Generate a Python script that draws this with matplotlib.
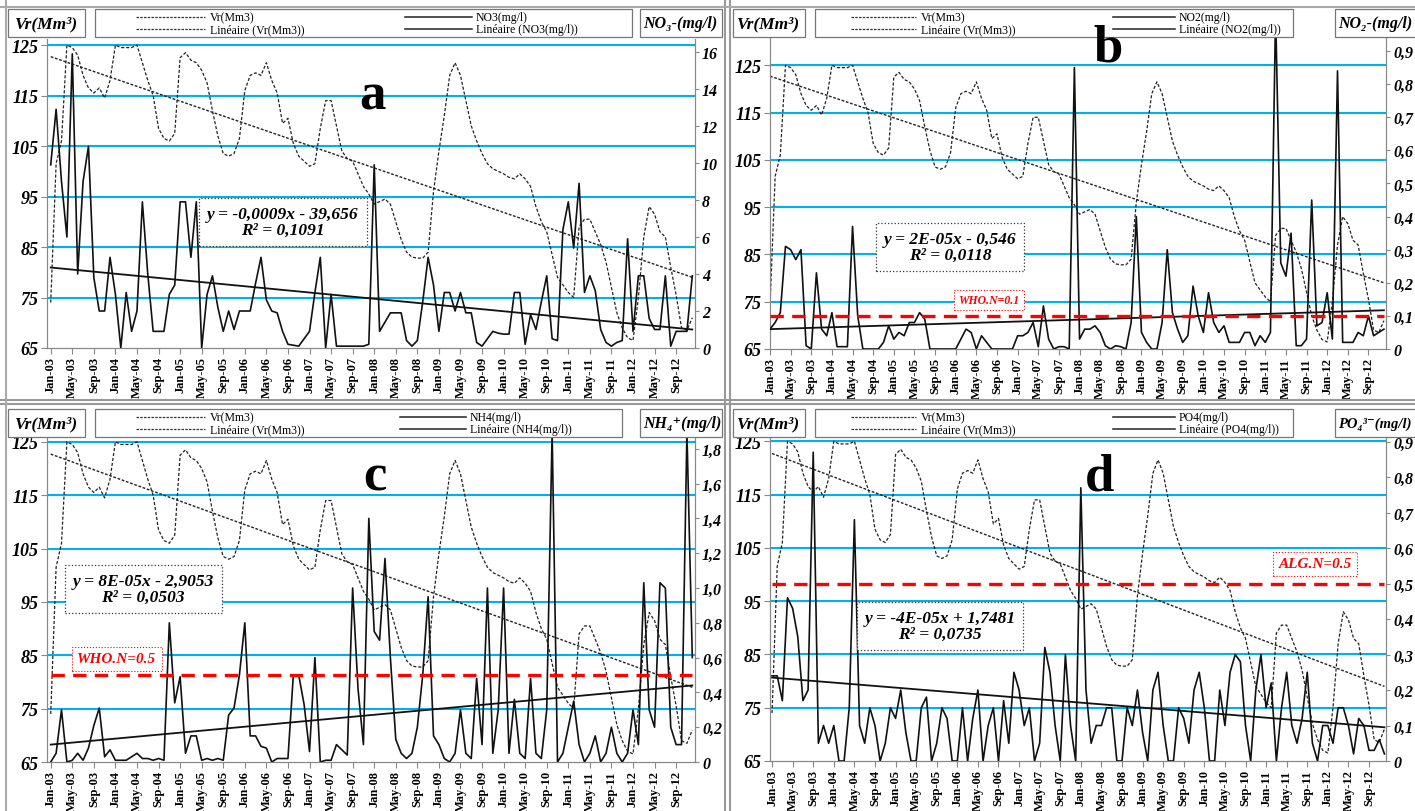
import matplotlib.pyplot as plt
import numpy as np
from matplotlib.patches import Rectangle
from matplotlib.lines import Line2D

# monthly data Jan-2003 .. Dec-2012
vr = [74, 101.5, 106, 125, 124.5, 123, 119, 116.5, 115.5, 116.5, 114.5, 118,
      125, 124.5, 124.5, 124.5, 125, 121.5, 118, 115, 108.5, 106.5, 106, 107.5,
      122.5, 123.5, 122, 121.5, 120, 117.5, 112, 107, 103.5, 103, 103.5, 106.5,
      116, 119, 119.5, 119, 121.5, 118, 115.5, 109.5, 110.5, 105.5, 103, 102,
      101, 101.5, 108.5, 114, 114, 109, 104, 102.5, 102, 99.5, 97, 95.5,
      93.5, 94, 94.5, 93.5, 90, 86.5, 84, 83, 82.8, 82.8, 84, 96,
      104, 111, 119, 121.5, 119, 114, 109, 106, 103.5, 101.5, 100.5, 100,
      99.5, 98.8, 98.5, 99.5, 98.5, 97, 93, 90, 88, 83.5, 79, 77.5,
      76, 75, 89, 90.5, 90.5, 88, 85.5, 82, 77, 72, 69, 67,
      66.5, 75, 87, 93, 91.5, 88, 87, 81, 75.5, 69, 68.5, 71]

no3 = [9.9, 12.9, 9.0, 6.0, 15.9, 4.0, 9.0, 10.9, 3.8, 2.0, 2.0, 4.9,
       2.9, 0.0, 3.0, 0.9, 2.0, 7.9, 4.0, 0.9, 0.9, 0.9, 2.9, 3.4,
       7.9, 7.9, 4.9, 7.9, 0.0, 2.9, 3.9, 2.2, 0.9, 2.0, 1.0, 2.0,
       2.0, 2.0, 3.5, 4.9, 2.6, 2.0, 1.9, 0.9, 0.2, 0.15, 0.1, 0.5,
       0.9, 3.0, 4.9, 0.0, 2.9, 0.1, 0.1, 0.1, 0.1, 0.1, 0.1, 0.2,
       9.9, 0.9, 1.4, 1.9, 1.9, 1.9, 0.4, 0.1, 0.4, 2.5, 4.9, 3.4,
       0.9, 3.0, 3.0, 2.0, 3.0, 1.9, 1.9, 0.3, 0.1, 0.5, 0.9, 0.8,
       0.75, 0.75, 3.0, 3.0, 0.2, 1.8, 1.0, 2.5, 3.9, 0.5, 0.4, 6.4,
       7.9, 5.4, 8.9, 3.0, 3.9, 3.1, 1.0, 0.3, 0.1, 0.3, 0.4, 5.9,
       0.9, 3.9, 3.9, 1.6, 1.0, 1.0, 3.9, 0.1, 0.9, 0.9, 0.9, 3.9]

no2 = [0.06, 0.08, 0.11, 0.31, 0.30, 0.27, 0.30, 0.01, 0.0, 0.23, 0.06, 0.04,
       0.11, 0.007, 0.007, 0.007, 0.37, 0.10, 0.0, 0.0, 0.0, 0.0, 0.02, 0.07,
       0.03, 0.05, 0.04, 0.08, 0.08, 0.11, 0.09, 0.0, 0.0, 0.0, 0.0, 0.0,
       0.0, 0.03, 0.06, 0.05, 0.0, 0.04, 0.02, 0.0, 0.0, 0.0, 0.0, 0.0,
       0.04, 0.04, 0.05, 0.08, 0.007, 0.13, 0.03, 0.0, 0.007, 0.007, 0.0, 0.85,
       0.03, 0.06, 0.06, 0.07, 0.05, 0.01, 0.0, 0.01, 0.007, 0.0, 0.08, 0.40,
       0.05, 0.02, 0.0, 0.0, 0.08, 0.30, 0.11, 0.06, 0.02, 0.04, 0.19, 0.10,
       0.05, 0.17, 0.08, 0.05, 0.07, 0.02, 0.02, 0.02, 0.05, 0.05, 0.01, 0.04,
       0.02, 0.05, 1.02, 0.26, 0.22, 0.35, 0.01, 0.01, 0.03, 0.45, 0.07, 0.08,
       0.17, 0.03, 0.84, 0.02, 0.02, 0.02, 0.05, 0.04, 0.10, 0.04, 0.05, 0.06]

nh4 = [0.0, 0.05, 0.30, 0.0, 0.01, 0.05, 0.01, 0.08, 0.21, 0.31, 0.03, 0.07,
       0.01, 0.01, 0.01, 0.03, 0.05, 0.02, 0.02, 0.01, 0.02, 0.01, 0.80, 0.34,
       0.49, 0.05, 0.15, 0.15, 0.01, 0.02, 0.01, 0.02, 0.01, 0.27, 0.31, 0.50,
       0.80, 0.15, 0.15, 0.09, 0.08, 0.0, 0.02, 0.02, 0.02, 0.50, 0.50, 0.33,
       0.06, 0.60, 0.0, 0.01, 0.01, 0.10, 0.07, 0.04, 1.0, 0.42, 0.10, 1.40,
       0.75, 0.70, 1.17, 0.60, 0.13, 0.05, 0.02, 0.05, 0.20, 0.50, 0.95, 0.15,
       0.10, 0.02, 0.0, 0.05, 0.30, 0.05, 0.02, 0.48, 0.10, 1.0, 0.05, 0.30,
       1.0, 0.05, 0.36, 0.05, 0.02, 0.48, 0.05, 0.02, 0.30, 1.90, 0.0, 0.05,
       0.20, 0.35, 0.10, 0.0, 0.05, 0.15, 0.0, 0.05, 0.20, 0.05, 0.0, 0.05,
       0.30, 0.10, 1.03, 0.30, 0.20, 1.03, 1.0, 0.20, 0.10, 0.10, 1.90, 0.60]

po4 = [0.24, 0.24, 0.17, 0.46, 0.43, 0.35, 0.17, 0.20, 0.87, 0.05, 0.10, 0.05,
       0.10, 0.0, 0.0, 0.15, 0.68, 0.10, 0.05, 0.15, 0.10, 0.0, 0.05, 0.15,
       0.12, 0.20, 0.08, 0.0, 0.0, 0.15, 0.18, 0.0, 0.05, 0.15, 0.12, 0.0,
       0.0, 0.15, 0.0, 0.12, 0.20, 0.0, 0.10, 0.15, 0.0, 0.17, 0.05, 0.25,
       0.20, 0.10, 0.15, 0.0, 0.05, 0.32, 0.25, 0.10, 0.0, 0.30, 0.10, 0.0,
       0.77, 0.20, 0.05, 0.10, 0.10, 0.15, 0.15, 0.0, 0.0, 0.15, 0.10, 0.20,
       0.08, 0.0, 0.20, 0.25, 0.10, 0.0, 0.0, 0.15, 0.12, 0.05, 0.20, 0.25,
       0.15, 0.0, 0.0, 0.20, 0.10, 0.25, 0.30, 0.28, 0.10, 0.0, 0.20, 0.30,
       0.15, 0.22, 0.0, 0.15, 0.25, 0.10, 0.05, 0.12, 0.25, 0.05, 0.0, 0.10,
       0.10, 0.05, 0.15, 0.15, 0.10, 0.02, 0.12, 0.10, 0.03, 0.03, 0.06, 0.02]

# linear trend end values (Jan-03, Dec-12)
vr_trend = [122.7, 79.0]
no3_trend = [4.35, 1.0]
no2_trend = [0.06, 0.117]
nh4_trend = [0.10, 0.44]
po4_trend = [0.235, 0.095]

months = np.arange(len(vr))
tick_pos = np.arange(0, 117, 4)
tick_labels = [f"{m}-{y:02d}" for y in range(3, 13) for m in ("Jan", "May", "Sep")]

W, H = 1415, 812
fig = plt.figure(figsize=(W / 100, H / 100), dpi=100)
fig.patch.set_facecolor('white')
SERIF = ['Liberation Serif', 'DejaVu Serif']
BLUE = '#00B0F0'


def fx(x):
    return x / W


def fy(y):
    return 1 - y / H


def box(x0, y0, x1, y1, ec='#777', ls='-', lw=0.9):
    fig.add_artist(Rectangle((fx(x0), fy(y1)), fx(x1) - fx(x0), fy(y0) - fy(y1),
                             transform=fig.transFigure, fc='white', ec=ec,
                             ls=ls, lw=lw, zorder=5))


def legend(x0, x1, y0, lx0, lx1, rx0, rx1, name):
    box(x0, y0, x1, y0 + 28)
    rows = [y0 + 8, y0 + 20]
    texts_l = ["Vr(Mm3)", "Linéaire (Vr(Mm3))"]
    texts_r = [f"{name}(mg/l)", f"Linéaire ({name}(mg/l))"]
    for r, tl, tr in zip(rows, texts_l, texts_r):
        fig.add_artist(Line2D([fx(lx0), fx(lx1)], [fy(r), fy(r)], transform=fig.transFigure,
                              color='#333', lw=0.9, ls=(0, (2, 1)), zorder=6))
        fig.text(fx(lx1 + 5), fy(r), tl, family=SERIF, fontsize=8.5, va='center', zorder=7)
        fig.add_artist(Line2D([fx(rx0), fx(rx1)], [fy(r), fy(r)], transform=fig.transFigure,
                              color='#222', lw=1.1, zorder=6))
        fig.text(fx(rx1 + 4), fy(r), tr, family=SERIF, fontsize=8.5, va='center', zorder=7)


def panel(rect, xlim, vtop, rtop, series, trend, rticks, rlabels, letter, letter_xy,
          eq, eq_xy, norm=None, norm_label=None, norm_xy=None, norm_fs=11):
    left, top, right, bottom = rect
    ax = fig.add_axes([fx(left), fy(bottom), fx(right) - fx(left), fy(top) - fy(bottom)])
    ax.set_facecolor('none')
    ax.set_xlim(*xlim)
    ax.set_ylim(65, vtop)
    for v in range(75, 126, 10):
        ax.axhline(v, color=BLUE, lw=1.5, zorder=0)
    ax.plot(months, vr, color='#222', lw=0.9, ls=(0, (2.5, 1.5)), zorder=3)
    ax.plot([months[0], months[-1]], vr_trend, color='#222', lw=1.0, ls=(0, (2, 1.2)), zorder=3)
    ax.set_yticks(range(65, 126, 10))
    ax.set_yticklabels([str(v) for v in range(65, 126, 10)], family=SERIF,
                       fontsize=13, fontweight='bold', style='italic')
    ax.set_xticks(tick_pos)
    ax.set_xticklabels(tick_labels, rotation=90, family=SERIF, fontsize=9, fontweight='bold')
    ax.tick_params(axis='both', length=4, color='#888', pad=2)
    ax.spines['top'].set_visible(False)
    for s in ('left', 'right', 'bottom'):
        ax.spines[s].set_color('#888')

    ax2 = ax.twinx()
    ax2.set_ylim(0, rtop)
    ax2.plot(months, series, color='#111', lw=1.2, zorder=4)
    ax2.plot([months[0], months[-1]], trend, color='#111', lw=1.3, zorder=4)
    if norm is not None:
        ax2.plot([months[0], months[-1]], [norm, norm], color='red', lw=2.4,
                 ls=(0, (4, 2.5)), zorder=5)
        fig.text(fx(norm_xy[0]), fy(norm_xy[1]), norm_label, family=SERIF, fontsize=norm_fs,
                 fontweight='bold', style='italic', color='red', ha='center', va='center',
                 zorder=8, bbox=dict(boxstyle='square,pad=0.35', fc='white', ec='red',
                                     ls=':', lw=0.8))
    ax2.set_yticks(rticks)
    ax2.set_yticklabels(rlabels, family=SERIF, fontsize=11.5, fontweight='bold', style='italic')
    ax2.tick_params(axis='y', length=3, color='#888', pad=2)
    ax2.spines['top'].set_visible(False)
    for s in ('left', 'right', 'bottom'):
        ax2.spines[s].set_color('#888')

    fig.text(fx(letter_xy[0]), fy(letter_xy[1]), letter, family=SERIF, fontsize=38,
             fontweight='bold', ha='center', va='center', zorder=8)
    fig.text(fx(eq_xy[0]), fy(eq_xy[1]), eq, family=SERIF, fontsize=12.5, fontweight='bold',
             style='italic', ha='center', va='center', linespacing=1.0, zorder=8,
             bbox=dict(boxstyle='square,pad=0.45', fc='white', ec='#333', ls=':', lw=0.9))
    return ax


def side_labels(lx0, lx1, rx0, rx1, y0, rtext, rsize=11.5):
    box(lx0, y0, lx1, y0 + 28)
    fig.text(fx((lx0 + lx1) / 2), fy(y0 + 14), "Vr(Mm³)", family=SERIF, fontsize=12.5,
             fontweight='bold', style='italic', ha='center', va='center', zorder=8)
    box(rx0, y0, rx1, y0 + 28)
    fig.text(fx(rx0 + 3), fy(y0 + 14), rtext, family=SERIF, fontsize=rsize,
             fontweight='bold', style='italic', ha='left', va='center', zorder=8)


# panel a
panel((47, 40, 695, 349), (-0.69, 119.5), 126.2, 16.7, no3, no3_trend,
      range(0, 17, 2), [str(v) for v in range(0, 17, 2)], 'a', (372, 97),
      "y = -0,0009x - 39,656\nR² = 0,1091", (283, 223))
# panel b
panel((770, 10, 1386, 350), (0, 119.4), 136.9, 1.027, no2, no2_trend,
      np.arange(0, 1.0, 0.1), ['0'] + [f"0,{i}" for i in range(1, 10)], 'b', (1108, 48),
      "y = 2E-05x - 0,546\nR² = 0,0118", (950, 248),
      norm=0.1, norm_label="WHO.N=0.1", norm_xy=(989, 301), norm_fs=8.5)
# panel c
panel((47, 438, 695, 763), (-0.69, 119.5), 125.9, 1.868, nh4, nh4_trend,
      np.arange(0, 1.81, 0.2), ['0'] + [f"{v:.1f}".replace('.', ',') for v in np.arange(0.2, 1.81, 0.2)],
      'c', (375, 478), "y = 8E-05x - 2,9053\nR² = 0,0503", (143, 590),
      norm=0.5, norm_label="WHO.N=0.5", norm_xy=(117, 660))
# panel d
panel((770, 438, 1386, 762), (-0.4, 119.3), 125.8, 0.913, po4, po4_trend,
      np.arange(0, 0.91, 0.1), ['0'] + [f"0,{i}" for i in range(1, 10)], 'd', (1100, 478),
      "y = -4E-05x + 1,7481\nR² = 0,0735", (940, 627),
      norm=0.5, norm_label="ALG.N=0.5", norm_xy=(1315, 565))

# legends and axis title boxes
legend(95, 632, 10, 136, 205, 405, 472, "NO3")
legend(815, 1293, 10, 851, 916, 1113, 1175, "NO2")
legend(95, 622, 410, 136, 205, 400, 466, "NH4")
legend(815, 1293, 410, 851, 916, 1113, 1175, "PO4")
side_labels(8, 85, 640, 722, 10, "NO₃-(mg/l)")
side_labels(733, 805, 1335, 1418, 10, "NO₂-(mg/l)")
side_labels(8, 85, 640, 722, 410, "NH₄⁺(mg/l)")
side_labels(733, 805, 1335, 1418, 410, "PO₄³⁻(mg/l)", rsize=10.5)

# panel frames
for x in (725, 730):
    fig.add_artist(Line2D([fx(x), fx(x)], [0, 1], transform=fig.transFigure, color='#999', lw=1.5))
for y in (401, 405):
    fig.add_artist(Line2D([0, 1], [fy(y), fy(y)], transform=fig.transFigure, color='#999', lw=1.5))
fig.add_artist(Line2D([0, 1], [fy(8), fy(8)], transform=fig.transFigure, color='#aaa', lw=1.5))
fig.add_artist(Line2D([fx(6), fx(6)], [0, 1], transform=fig.transFigure, color='#aaa', lw=1.5))

fig.savefig('out.png', dpi=100, facecolor='white')
